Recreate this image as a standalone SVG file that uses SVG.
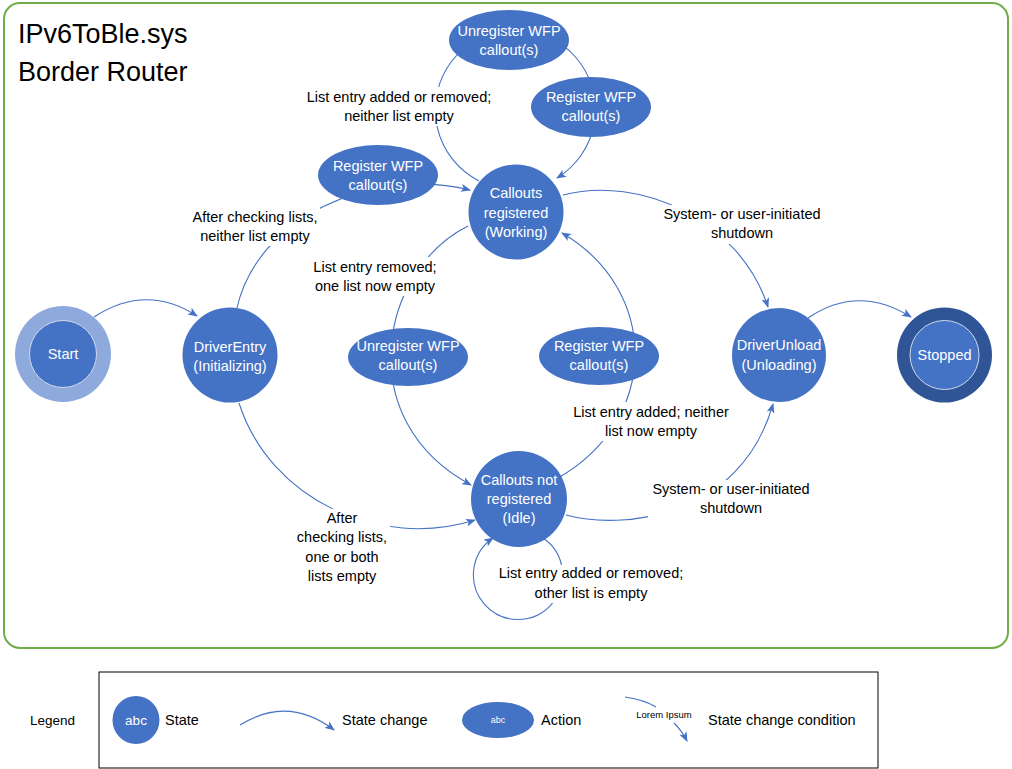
<svg xmlns="http://www.w3.org/2000/svg" width="1012" height="769" viewBox="0 0 1012 769">
<style>
  .st{fill:#4472C4}
  .t{font-family:"Liberation Sans",Arial,sans-serif;font-size:14.5px;fill:#000;text-anchor:middle}
  .w{font-family:"Liberation Sans",Arial,sans-serif;font-size:14.5px;fill:#fff;text-anchor:middle}
  .c{fill:none;stroke:#4472C4;stroke-width:1.1}
  .bg{fill:#fff}
</style>
<defs>
  <marker id="arr" viewBox="0 0 10 8" refX="9" refY="4" markerWidth="10" markerHeight="8" markerUnits="userSpaceOnUse" orient="auto">
    <path d="M0,0 L10,4 L0,8 L2.5,4 z" fill="#4472C4"/>
  </marker>
</defs>
<rect x="0" y="0" width="1012" height="769" fill="#fff"/>
<rect x="4" y="3" width="1004" height="645" rx="16" fill="none" stroke="#70AD47" stroke-width="2"/>
<g id="title">
  <text x="18" y="43" style="font-family:'Liberation Sans',Arial,sans-serif;font-size:27px">IPv6ToBle.sys</text>
  <text x="18" y="81" style="font-family:'Liberation Sans',Arial,sans-serif;font-size:27px">Border Router</text>
</g>
<g id="connectors">
  <path class="c" d="M94,317 Q146,283 197,316" marker-end="url(#arr)"/>
  <path class="c" d="M808,318 Q858,284 911,317" marker-end="url(#arr)"/>
  <path class="c" d="M237,308 C257,218 371,166 470,190" marker-end="url(#arr)"/>
  <path class="c" d="M479,181 A80,80 0 1 1 557,178" marker-end="url(#arr)"/>
  <path class="c" d="M563,195 C640,175 740,220 768,307" marker-end="url(#arr)"/>
  <path class="c" d="M566,515 C620,530 740,520 773,404" marker-end="url(#arr)"/>
  <path class="c" d="M468,226 C380,270 350,420 471,485" marker-end="url(#arr)"/>
  <path class="c" d="M558,478 C660,420 660,290 562,233" marker-end="url(#arr)"/>
  <path class="c" d="M239,403 C270,500 380,550 475,520" marker-end="url(#arr)"/>
  <path class="c" d="M543,538 A44.6,44.6 0 1 1 493,538" marker-end="url(#arr)"/>
</g>
<g id="labels">
  <g id="lbl-top-loop">
    <rect class="bg" x="303" y="87" width="192" height="39"/>
    <text class="t" x="399" y="102">List entry added or removed;</text>
    <text class="t" x="399" y="121">neither list empty</text>
  </g>
  <g id="lbl-entry-working">
    <rect class="bg" x="190" y="207" width="130" height="39"/>
    <text class="t" x="255" y="222">After checking lists,</text>
    <text class="t" x="255" y="241">neither list empty</text>
  </g>
  <g id="lbl-removed">
    <rect class="bg" x="310" y="257" width="130" height="39"/>
    <text class="t" x="375" y="272">List entry removed;</text>
    <text class="t" x="375" y="291">one list now empty</text>
  </g>
  <g id="lbl-shutdown-top">
    <rect class="bg" x="658" y="205" width="168" height="39"/>
    <text class="t" x="742" y="219">System- or user-initiated</text>
    <text class="t" x="742" y="238">shutdown</text>
  </g>
  <g id="lbl-added">
    <rect class="bg" x="568" y="402" width="165" height="39"/>
    <text class="t" x="651" y="417">List entry added; neither</text>
    <text class="t" x="651" y="436">list now empty</text>
  </g>
  <g id="lbl-shutdown-bottom">
    <rect class="bg" x="648" y="480" width="168" height="39"/>
    <text class="t" x="731" y="494">System- or user-initiated</text>
    <text class="t" x="731" y="513">shutdown</text>
  </g>
  <g id="lbl-entry-idle">
    <rect class="bg" x="295" y="509" width="95" height="77"/>
    <text class="t" x="342" y="523">After</text>
    <text class="t" x="342" y="542">checking lists,</text>
    <text class="t" x="342" y="562">one or both</text>
    <text class="t" x="342" y="581">lists empty</text>
  </g>
  <g id="lbl-self">
    <rect class="bg" x="495" y="565" width="193" height="38"/>
    <text class="t" x="591" y="578">List entry added or removed;</text>
    <text class="t" x="591" y="598">other list is empty</text>
  </g>
</g>
<g id="node-start">
  <circle cx="63" cy="354" r="48" fill="#8EA9DB"/>
  <circle cx="63" cy="354" r="33.5" class="st" stroke="#D0DAEE" stroke-width="1"/>
  <text class="w" x="63" y="359">Start</text>
</g>
<g id="node-driverentry">
  <circle cx="230" cy="355" r="47.5" class="st"/>
  <text class="w" x="230" y="352">DriverEntry</text>
  <text class="w" x="230" y="371">(Initializing)</text>
</g>
<g id="node-working">
  <circle cx="516" cy="212" r="47.5" class="st"/>
  <text class="w" x="516" y="198">Callouts</text>
  <text class="w" x="516" y="218">registered</text>
  <text class="w" x="516" y="237">(Working)</text>
</g>
<g id="node-idle">
  <circle cx="519" cy="499" r="48" class="st"/>
  <text class="w" x="519" y="485">Callouts not</text>
  <text class="w" x="519" y="504">registered</text>
  <text class="w" x="519" y="523">(Idle)</text>
</g>
<g id="node-driverunload">
  <circle cx="779" cy="355" r="47" class="st"/>
  <text class="w" x="779" y="350">DriverUnload</text>
  <text class="w" x="779" y="370">(Unloading)</text>
</g>
<g id="node-stopped">
  <circle cx="944.5" cy="355" r="47.5" fill="#2F5597"/>
  <circle cx="944.5" cy="355" r="34.5" class="st" stroke="#D0DAEE" stroke-width="1"/>
  <text class="w" x="944.5" y="360">Stopped</text>
</g>
<g id="action-unregister-top">
  <ellipse cx="509" cy="40" rx="60" ry="30" class="st"/>
  <text class="w" x="509" y="36">Unregister WFP</text>
  <text class="w" x="509" y="55">callout(s)</text>
</g>
<g id="action-register-topright">
  <ellipse cx="591" cy="107" rx="60" ry="30" class="st"/>
  <text class="w" x="591" y="102">Register WFP</text>
  <text class="w" x="591" y="121">callout(s)</text>
</g>
<g id="action-register-left">
  <ellipse cx="378" cy="175" rx="60" ry="30" class="st"/>
  <text class="w" x="378" y="171">Register WFP</text>
  <text class="w" x="378" y="190">callout(s)</text>
</g>
<g id="action-unregister-mid">
  <ellipse cx="408" cy="357" rx="60" ry="29" class="st"/>
  <text class="w" x="408" y="351">Unregister WFP</text>
  <text class="w" x="408" y="370">callout(s)</text>
</g>
<g id="action-register-mid">
  <ellipse cx="599" cy="356" rx="60" ry="29" class="st"/>
  <text class="w" x="599" y="351">Register WFP</text>
  <text class="w" x="599" y="370">callout(s)</text>
</g>
<g id="legend">
  <rect x="99" y="672" width="779" height="96" fill="none" stroke="#000" stroke-width="1"/>
  <text x="30" y="725" style="font-family:'Liberation Sans',Arial,sans-serif;font-size:13.5px">Legend</text>
  <ellipse cx="136" cy="720" rx="23.5" ry="24" class="st"/>
  <text class="w" x="136" y="725" style="font-size:13.5px">abc</text>
  <text x="165" y="725" style="font-family:'Liberation Sans',Arial,sans-serif;font-size:14.5px">State</text>
  <path class="c" d="M240,725 Q288,695 334,730" marker-end="url(#arr)"/>
  <text x="342" y="725" style="font-family:'Liberation Sans',Arial,sans-serif;font-size:14.5px">State change</text>
  <ellipse cx="498" cy="720" rx="36" ry="18" class="st"/>
  <text class="w" x="498" y="723" style="font-size:9px">abc</text>
  <text x="541" y="725" style="font-family:'Liberation Sans',Arial,sans-serif;font-size:14.5px">Action</text>
  <path class="c" d="M625,697 Q645,700 656,707"/>
  <text class="t" x="664" y="718" style="font-size:9.5px">Lorem Ipsum</text>
  <path class="c" d="M674,723 Q682,731 687,741" marker-end="url(#arr)"/>
  <text x="708" y="725" style="font-family:'Liberation Sans',Arial,sans-serif;font-size:14.5px">State change condition</text>
</g>
</svg>
